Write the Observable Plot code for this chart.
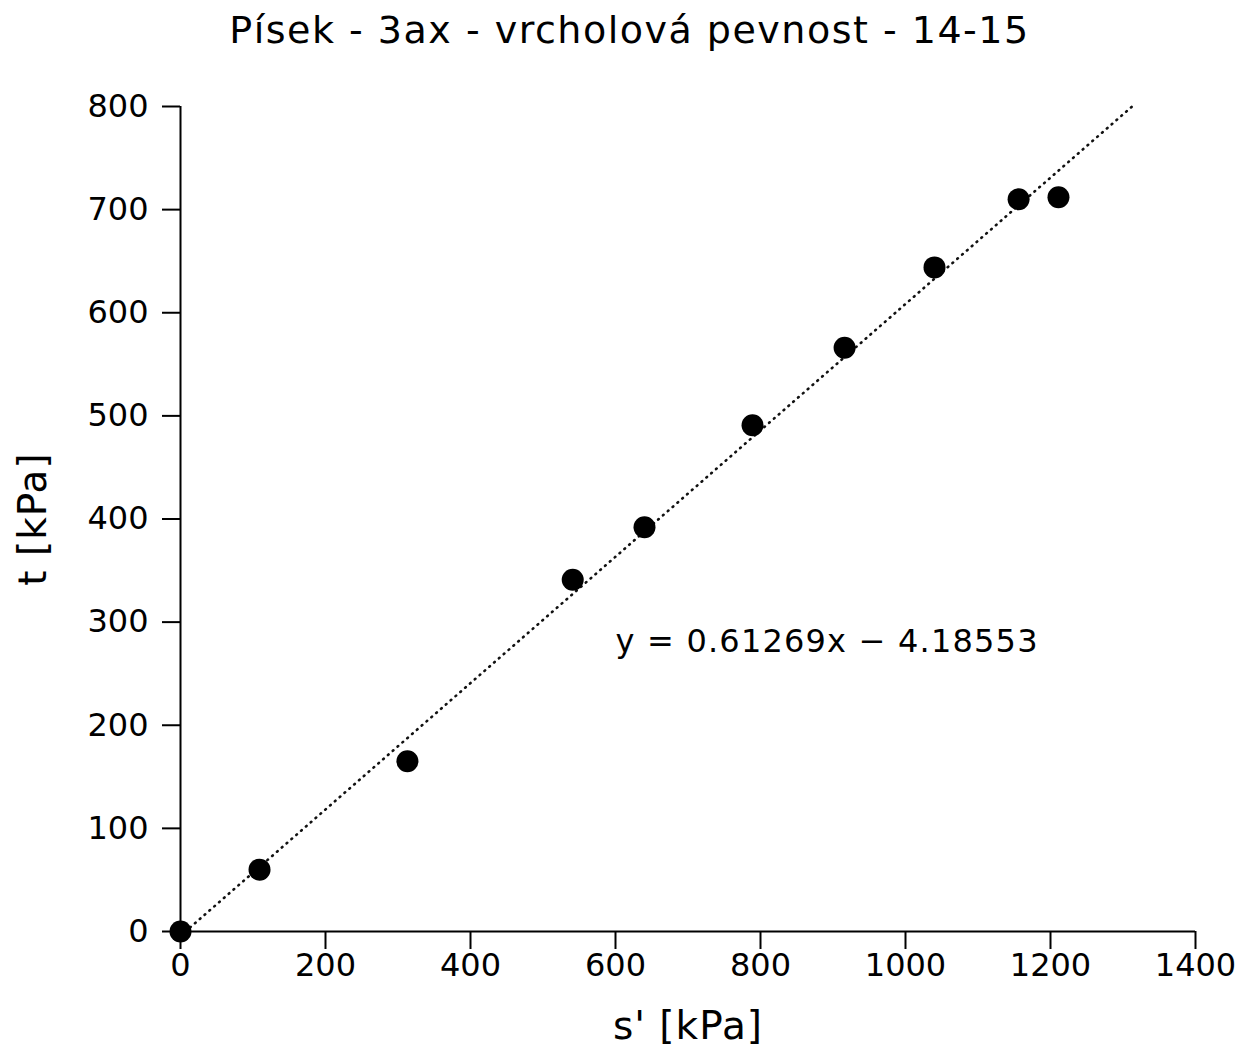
<!DOCTYPE html>
<html>
<head>
<meta charset="utf-8">
<script src="https://cdn.jsdelivr.net/npm/d3@7"></script>
<script src="https://cdn.jsdelivr.net/npm/@observablehq/plot@0.6"></script>
<style>
  html, body { margin: 0; padding: 0; background: #fff; }
  #title { font-family: "DejaVu Sans", sans-serif; font-size: 38px; height: 60px; line-height: 60px; text-align: center; color: #000; padding-left: 16px; letter-spacing: 1.5px; }
  svg { display: block; }
</style>
</head>
<body>
<div id="title">Písek - 3ax - vrcholová pevnost - 14-15</div>
<div id="chart"></div>
<script>
const sEff = [0, 109, 313, 541, 640, 789, 916, 1040, 1156, 1211];
const tVal = [0, 60, 165, 341, 392, 491, 566, 644, 710, 712];
const slope = 0.61269;
const intercept = -4.18553;
const trendX = [0, (800 - intercept) / slope];
const equation = "y = 0.61269x \u2212 4.18553";
const xTicks = [0, 200, 400, 600, 800, 1000, 1200, 1400];
const yTicks = [0, 100, 200, 300, 400, 500, 600, 700, 800];

const points = sEff.map((s, i) => ({s, t: tVal[i]}));
const trend = trendX.map(x => ({x, y: slope * x + intercept}));

const chart = Plot.plot({
  width: 1243,
  height: 992,
  marginLeft: 180,
  marginRight: 48,
  marginTop: 46,
  marginBottom: 121,
  style: {fontFamily: "DejaVu Sans, sans-serif", fontSize: "32px", color: "#000", background: "#fff"},
  x: {domain: [0, 1400]},
  y: {domain: [0, 800]},
  marks: [
    Plot.axisX({ticks: xTicks, tickFormat: d => String(d), tickSize: 18, tickPadding: 4, fontSize: 32, label: "s' [kPa]", labelAnchor: "center", labelOffset: 107, labelArrow: "none", stroke: "#000", strokeWidth: 2}),
    Plot.axisY({ticks: yTicks, tickFormat: d => String(d), tickSize: 18, tickPadding: 14, fontSize: 32, label: "t [kPa]", labelAnchor: "center", labelOffset: 162, labelArrow: "none", stroke: "#000", strokeWidth: 2}),
    Plot.ruleY([0], {stroke: "#000", strokeWidth: 2}),
    Plot.ruleX([0], {stroke: "#000", strokeWidth: 2}),
    Plot.line(trend, {x: "x", y: "y", stroke: "#111", strokeWidth: 2.6, strokeDasharray: "0.8,5.6", strokeLinecap: "round"}),
    Plot.dot(points, {x: "s", y: "t", r: 11, fill: "#000"}),
    Plot.text([equation], {x: 600, y: 281, text: d => d, textAnchor: "start", fontSize: 32, fill: "#000"})
  ]
});
chart.querySelectorAll("g[aria-label='x-axis label'] text, g[aria-label='y-axis label'] text").forEach(t => { t.setAttribute("font-size", "39"); t.setAttribute("letter-spacing", "1"); });
chart.querySelectorAll("g[aria-label='text'] text").forEach(t => t.setAttribute("letter-spacing", "1.2"));
document.getElementById("chart").appendChild(chart);
</script>
</body>
</html>
